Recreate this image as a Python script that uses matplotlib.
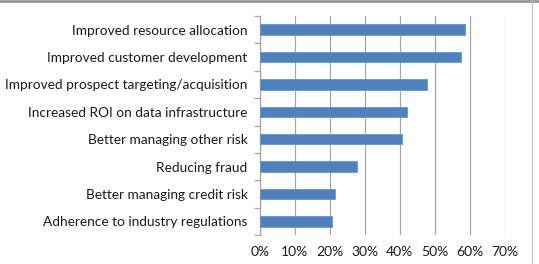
import matplotlib
matplotlib.use("Agg")
import matplotlib.pyplot as plt
from matplotlib.ticker import FuncFormatter
from matplotlib.lines import Line2D

categories = [
    "Improved resource allocation",
    "Improved customer development",
    "Improved prospect targeting/acquisition",
    "Increased ROI on data infrastructure",
    "Better managing other risk",
    "Reducing fraud",
    "Better managing credit risk",
    "Adherence to industry regulations",
]
values = [58.7, 57.6, 47.7, 42.2, 40.6, 27.9, 21.5, 20.5]
x_ticks = [0, 10, 20, 30, 40, 50, 60, 70]

plt.rcParams['font.family'] = ['Lato', 'DejaVu Sans']

fig = plt.figure(figsize=(5.39, 2.64), dpi=100)
ax = fig.add_axes([260/539, (264-235)/264, (504.5-260)/539, (235-16)/264])

n = len(categories)
ypos = list(range(n))[::-1]
ax.barh(ypos, values, height=0.38, color='#4F81BD', edgecolor='#6A95CB', linewidth=0.6, zorder=3)

ax.set_xlim(0, 70)
ax.set_ylim(-0.5, n - 0.5)
ax.set_xticks(x_ticks)
ax.xaxis.set_major_formatter(FuncFormatter(lambda v, p: f"{int(v)}%"))
ax.grid(axis='x', color='#A6A6A6', linewidth=0.9, zorder=0)
ax.set_yticks(ypos)
ax.set_yticklabels(categories, fontsize=9.8, color='#1a1a1a')
ax.tick_params(axis='y', length=0, pad=9)
ax.tick_params(axis='x', length=0, pad=8, labelsize=10, labelcolor='#1a1a1a')
ax.set_yticks([i + 0.5 for i in range(-1, n)], minor=True)
ax.tick_params(axis='y', which='minor', length=4, color='#A6A6A6', width=0.9)
ax.tick_params(axis='x', which='minor', length=0)

for s in ['top', 'right', 'bottom']:
    ax.spines[s].set_visible(False)
ax.spines['left'].set_color('#A6A6A6')
ax.spines['left'].set_linewidth(0.9)

# outer frame lines
fig.add_artist(Line2D([0, 1], [1 - 1/264, 1 - 1/264], transform=fig.transFigure, color='#999999', linewidth=2))
fig.add_artist(Line2D([532/539, 532/539], [0, 1], transform=fig.transFigure, color='#BBBBBB', linewidth=0.8))

fig.savefig("out.png", dpi=100)
